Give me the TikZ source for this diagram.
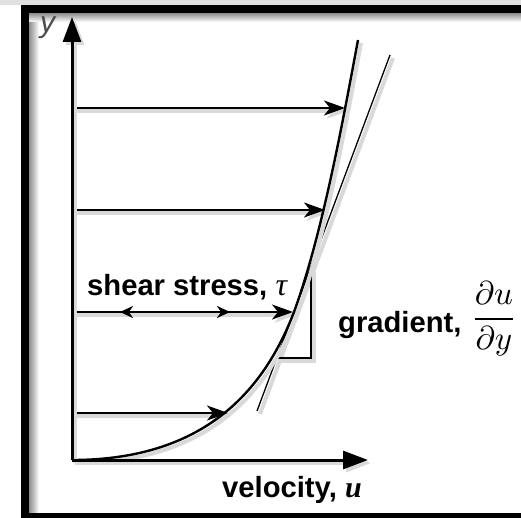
\documentclass[tikz,border=0pt]{standalone}
\usepackage{fontspec}
\setmainfont{Liberation Sans}
\newfontfamily\serifit{Liberation Serif}
\usetikzlibrary{arrows.meta}
\begin{document}
\begin{tikzpicture}[x=1pt,y=-1pt,
  shd/.style={preaction={draw=black!15, line width=4pt, transform canvas={shift={(3pt,-3pt)}}}},
  axis/.style={shd, line width=3pt, -{Triangle[length=25pt,width=18pt]}},
  vel/.style={shd, line width=2.3pt, -{Stealth[length=21pt,width=15pt,inset=6pt]}},
  sharrow/.style={line width=2.3pt, {Stealth[length=13pt,width=12pt,inset=4pt]}-{Stealth[length=13pt,width=12pt,inset=4pt]}},
  curve/.style={shd, line width=2.4pt},
  thin/.style={shd, line width=1.3pt},
  lbl/.style={font=\fontsize{29.2}{33}\selectfont\bfseries, inner sep=0pt, anchor=base west}]
\useasboundingbox (0,0) rectangle (521,518);
\clip (0,0) rectangle (521,518);
\fill[white] (0,0) rectangle (521,518);
\fill[black!12] (0,0) rectangle (521,5);
% frame shadow and frame
\shade[left color=black!45, right color=white] (29,13) rectangle (39,518);
\shade[top color=black!45, bottom color=white] (29,13) rectangle (521,22);
\draw[line width=8pt] (25,9) rectangle (540,517);
% coordinates
\coordinate (O) at (72,460);
\coordinate (ytip) at (72,17);
\coordinate (xtip) at (368,460);
\coordinate (a1) at (72,108); \coordinate (b1) at (345,108);
\coordinate (a2) at (72,210); \coordinate (b2) at (325,210);
\coordinate (a3) at (72,312); \coordinate (b3) at (293,312);
\coordinate (a4) at (72,413); \coordinate (b4) at (228,413);
\coordinate (s1) at (120,312); \coordinate (s2) at (230,312);
\coordinate (t1) at (390,55); \coordinate (t2) at (257,411);
\coordinate (r1) at (278,358); \coordinate (r2) at (311,358); \coordinate (r3) at (311,269);
\coordinate (m) at (294,312);
\coordinate (top) at (358,40);
% velocity vectors
\draw[vel] (a1) -- (b1);
\draw[vel] (a2) -- (b2);
\draw[vel] (a3) -- (b3);
\draw[vel] (a4) -- (b4);
\draw[sharrow] (s1) -- (s2);
% tangent and triangle
\draw[thin] (t1) -- (t2);
\draw[thin] (r1) -- (r2) -- (r3);
% velocity profile
\draw[curve] (O) .. controls (212,460) and (267,382) .. (m)
                 .. controls (323,232) and (343,120) .. (top);
% axes
\draw[axis] (O) -- (ytip);
\draw[axis] (O) -- (xtip);
% labels
\node[font=\fontsize{30}{33}\selectfont\itshape, text=black!70, inner sep=0pt, anchor=base west] (ylab) at (40,33) {y};
\node[lbl] (shear) at (87,295) {shear stress, {\fontsize{32}{34}\selectfont\serifit\itshape\mdseries τ}};
\node[lbl] (grad) at (338,332) {gradient,};
\node[scale=3.3, inner sep=0pt] (frac) at (494,319) {$\displaystyle\frac{\partial u}{\partial y}$};
\node[lbl] (vel) at (222,497) {velocity, {\fontsize{30}{34}\selectfont\serifit\itshape u}};
\end{tikzpicture}
\end{document}
